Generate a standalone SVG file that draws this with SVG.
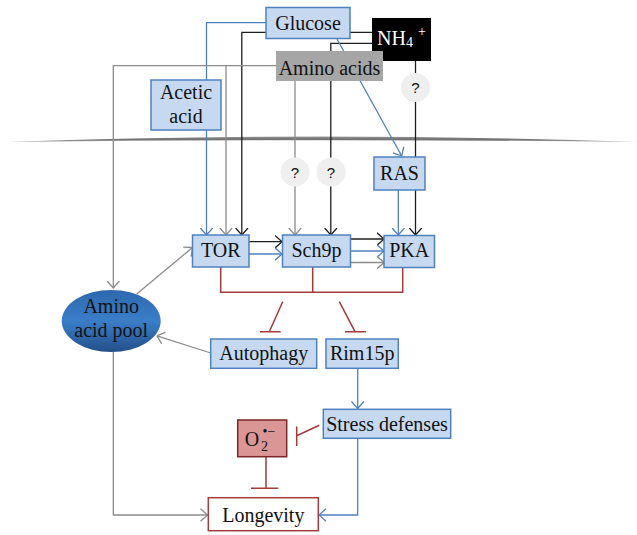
<svg xmlns="http://www.w3.org/2000/svg" width="637" height="535" viewBox="0 0 637 535">
<style>
  text { font-family: "Liberation Serif", "Times New Roman", serif; font-size: 20px; fill: #111; text-anchor: middle; }
  .q { font-family: "Liberation Sans", Arial, sans-serif; font-size: 15px; }
  .w { fill: #ffffff; }
  .bx { fill: #c6d9f1; stroke: #4f81bd; stroke-width: 1.5; }
  .qc { fill: #efefef; stroke: none; }
  .lb { fill: none; stroke: #4f81bd; stroke-width: 1.3; }
  .lk { fill: none; stroke: #1e1e1e; stroke-width: 1.3; }
  .lg { fill: none; stroke: #8c8c8c; stroke-width: 1.3; }
  .lr { fill: none; stroke: #a33b3b; stroke-width: 1.5; }
  .ab { marker-end: url(#mb); }
  .ak { marker-end: url(#mk); }
  .ag { marker-end: url(#mg); }
</style>
<defs>
  <marker id="mb" markerUnits="userSpaceOnUse" viewBox="0 0 8 14" refX="7.5" refY="7" markerWidth="8" markerHeight="14" orient="auto"><path d="M0.5,0.8 L7.5,7 L0.5,13.2" fill="none" stroke="#4f81bd" stroke-width="1.3"/></marker>
  <marker id="mk" markerUnits="userSpaceOnUse" viewBox="0 0 8 14" refX="7.5" refY="7" markerWidth="8" markerHeight="14" orient="auto"><path d="M0.5,0.8 L7.5,7 L0.5,13.2" fill="none" stroke="#1e1e1e" stroke-width="1.3"/></marker>
  <marker id="mg" markerUnits="userSpaceOnUse" viewBox="0 0 8 14" refX="7.5" refY="7" markerWidth="8" markerHeight="14" orient="auto"><path d="M0.5,0.8 L7.5,7 L0.5,13.2" fill="none" stroke="#8c8c8c" stroke-width="1.3"/></marker>
  <linearGradient id="pool" x1="0" y1="0" x2="0" y2="1">
    <stop offset="0" stop-color="#2c68ad"/>
    <stop offset="0.5" stop-color="#3b7ec8"/>
    <stop offset="1" stop-color="#234f8a"/>
  </linearGradient>
  <linearGradient id="mem" x1="0" y1="0" x2="0" y2="1">
    <stop offset="0" stop-color="#9a9a9a"/>
    <stop offset="0.5" stop-color="#6e6e6e"/>
    <stop offset="1" stop-color="#b0b0b0"/>
  </linearGradient>
</defs>

<!-- membrane -->
<path id="membrane" d="M7,142 Q320,131 637,142 Q320,138.5 7,142 Z" fill="url(#mem)"/>

<g id="connectors">
  <path class="lb ab" d="M266,22.7 H206.5 V235"/>
  <path class="lk ak" d="M372,32.3 H241.8 V235"/>
  <path class="lk ak" d="M372,43.3 H330.8 V235"/>
  <path class="lg ag" d="M276,65.7 H113.3 V288"/>
  <path class="lg ag" d="M226,65.7 V235"/>
  <path class="lg ag" d="M295,81 V235"/>
  <path class="lb ab" d="M337,39 L401.7,156"/>
  <path class="lk ak" d="M415.5,61 V235"/>
  <path class="lb ab" d="M398.3,190 V235"/>
  <path class="lk ak" d="M249,241.7 H282"/>
  <path class="lb ab" d="M249,254 H282"/>
  <path class="lk ak" d="M350.7,239 H384"/>
  <path class="lb ab" d="M350.7,251 H384"/>
  <path class="lg ag" d="M350.7,262.5 H384"/>
  <path class="lr" d="M220.7,267 V292.3 H402.7 V268 M312.7,267 V292.3"/>
  <path class="lr" d="M282.7,301.7 L269.3,331.7 M260,331.7 H280.7"/>
  <path class="lr" d="M339.3,301.7 L355,331.7 M345,331.7 H366"/>
  <path class="lg ag" d="M136.7,294 L192.5,247.5"/>
  <path class="lg ag" d="M210.7,353 L157,335.8"/>
  <path class="lb ab" d="M357.7,368.3 V408.5"/>
  <path class="lr" d="M319.3,425.3 L296.7,435.7 M296.7,426.5 V446"/>
  <path class="lr" d="M266,456.7 V488.3 M251,488.3 H278.3"/>
  <path class="lb ab" d="M357.7,438.3 V515 H319"/>
  <path class="lg ag" d="M113.3,351.7 V515 H207.5"/>
</g>

<g id="q1"><circle class="qc" cx="295" cy="172" r="14.5"/><text class="q" x="295" y="177.5">?</text></g>
<g id="q2"><circle class="qc" cx="331" cy="172" r="14.5"/><text class="q" x="331" y="177.5">?</text></g>
<g id="q3"><circle class="qc" cx="415.5" cy="87.5" r="14.5"/><text class="q" x="415.5" y="93">?</text></g>

<g id="glucose"><rect class="bx" x="266" y="7.5" width="84" height="31"/><text x="308" y="29.5">Glucose</text></g>
<g id="nh4"><rect x="372" y="18" width="59" height="43" fill="#000"/><text class="w" x="377" y="45" style="text-anchor:start">NH<tspan class="w" font-size="14" dy="2">4</tspan></text><text class="w" x="422" y="36" style="font-size:14px">+</text></g>
<g id="aminoacids"><rect x="276" y="51" width="107" height="30" fill="#a6a6a6"/><text x="329.5" y="74.5">Amino acids</text></g>
<g id="acetic"><rect class="bx" x="151" y="80" width="70" height="50"/><text x="186" y="98.5">Acetic</text><text x="186" y="122.5">acid</text></g>
<g id="ras"><rect class="bx" x="374" y="157" width="51" height="33"/><text x="399.5" y="180">RAS</text></g>
<g id="tor"><rect class="bx" x="192.5" y="235" width="56.5" height="32"/><text x="220.7" y="257">TOR</text></g>
<g id="sch9p"><rect class="bx" x="282.5" y="235" width="68" height="32"/><text x="316.5" y="257">Sch9p</text></g>
<g id="pka"><rect class="bx" x="384" y="235.5" width="50.5" height="32"/><text x="409.2" y="257">PKA</text></g>
<g id="pool-node"><ellipse cx="111.2" cy="321" rx="49.5" ry="31" fill="url(#pool)"/><text x="111.2" y="312.5">Amino</text><text x="111.2" y="337">acid pool</text></g>
<g id="autophagy"><rect class="bx" x="210.7" y="339" width="106" height="29.3"/><text x="263.7" y="360">Autophagy</text></g>
<g id="rim15p"><rect class="bx" x="326" y="339" width="72.3" height="29.3"/><text x="362.2" y="360">Rim15p</text></g>
<g id="stress"><rect class="bx" x="323.3" y="409.3" width="127.4" height="29"/><text x="387" y="430.5">Stress defenses</text></g>
<g id="o2"><rect x="237.7" y="420" width="49" height="36.7" fill="#d99694" stroke="#7b2626" stroke-width="1.5"/><text x="252" y="446">O</text><text x="264.5" y="451" style="font-size:14px">2</text><text x="269" y="436" style="font-size:14px">•−</text></g>
<g id="longevity"><rect x="208.3" y="497.7" width="110" height="33" fill="#fff" stroke="#a33b3b" stroke-width="1.5"/><text x="263.3" y="521.5">Longevity</text></g>
</svg>
